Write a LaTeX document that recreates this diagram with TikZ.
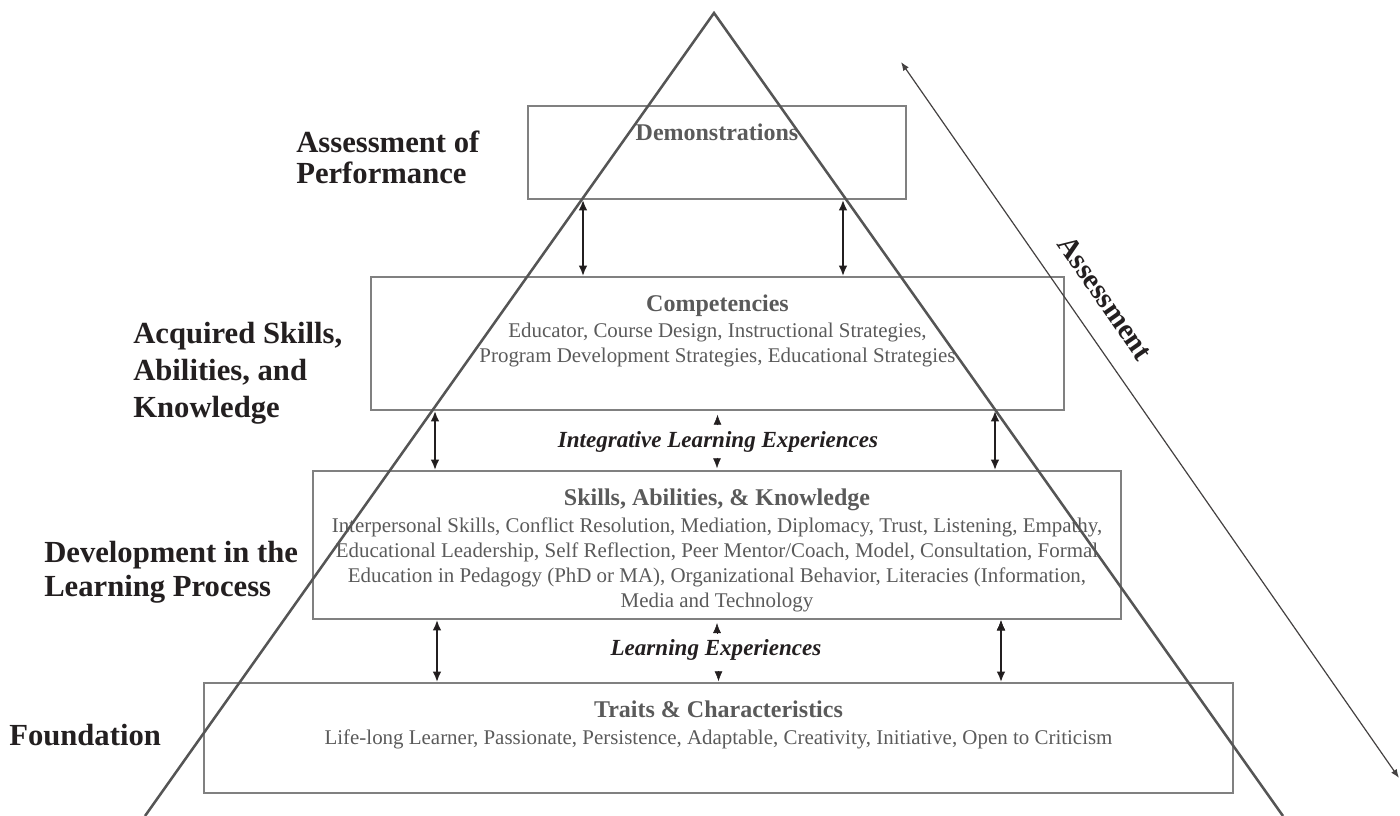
\documentclass[tikz,border=0pt]{standalone}
\usepackage{fontspec}
\setmainfont{Liberation Serif}
\usetikzlibrary{arrows.meta,positioning}
\definecolor{boxgray}{HTML}{808080}
\definecolor{textgray}{HTML}{5A5A5A}
\definecolor{inkblack}{HTML}{231F20}
\definecolor{pyrgray}{HTML}{555555}

\begin{document}
\begin{tikzpicture}[x=0.75pt, y=-0.75pt, >={Latex[length=8pt,width=6.5pt]},
level/.style = {draw=boxgray, line width=1.1pt, rectangle, inner sep=0pt},
title/.style = {text=textgray, font=\fontsize{18}{21.6}\selectfont\bfseries, inner sep=0pt, anchor=base},
body/.style = {text=textgray, font=\fontsize{15.7}{18.75}\selectfont, align=center, inner sep=0pt},
side/.style = {text=inkblack, font=\fontsize{23}{25.5}\selectfont\bfseries, align=left, inner sep=0pt, anchor=north west},
flow/.style = {text=inkblack, font=\fontsize{17.3}{20}\selectfont\bfseries\itshape, inner sep=0pt, anchor=base},
link/.style = {draw=inkblack, line width=1.8pt, <->},
midtip/.style = {draw=inkblack, line width=0.4pt, -{Latex[length=7.5pt,width=6pt]}},
assess/.style = {draw=inkblack!85, line width=0.9pt, {Latex[length=6.5pt,width=5pt]}-{Latex[length=6.5pt,width=5pt]}}]
    \useasboundingbox (0,0) rectangle (1400,816);

    % levels of the pyramid
    \node [level, minimum width=283.5pt, minimum height=69.75pt]  (demo)   at (717,152.5) {};
    \node [level, minimum width=519.75pt, minimum height=99.75pt] (comp)   at (717.5,343.5) {};
    \node [level, minimum width=606pt, minimum height=111pt]      (skills) at (717,545) {};
    \node [level, minimum width=771.75pt, minimum height=82.5pt]  (traits) at (718.5,738) {};

    \node [title] (demoT)   at ([yshift=-26.25pt]demo.north)   {Demonstrations};
    \node [title] (compT)   at ([yshift=-26.25pt]comp.north)   {Competencies};
    \node [title] (skillsT) at ([yshift=-26.25pt]skills.north) {Skills, Abilities, \& Knowledge};
    \node [title] (traitsT) at ([yshift=-26.25pt]traits.north) {Traits \& Characteristics};

    \node [body, below=8.8pt of compT.base]   (compB)   {Educator, Course Design, Instructional Strategies,\\
        Program Development Strategies, Educational Strategies};
    \node [body, below=8.8pt of skillsT.base] (skillsB) {Interpersonal Skills, Conflict Resolution, Mediation, Diplomacy, Trust, Listening, Empathy,\\
        Educational Leadership, Self Reflection, Peer Mentor/Coach, Model, Consultation, Formal\\
        Education in Pedagogy (PhD or MA), Organizational Behavior, Literacies (Information,\\
        Media and Technology};
    \node [body, below=8.8pt of traitsT.base] (traitsB) {Life-long Learner, Passionate, Persistence, Adaptable, Creativity, Initiative, Open to Criticism};

    % side labels
    \node [side, font=\fontsize{23}{23.25}\selectfont\bfseries] (assessL) at (296,131) {Assessment of\\Performance};
    \node [side, font=\fontsize{23}{27.75}\selectfont\bfseries] (acqL)    at (133,322) {Acquired Skills,\\Abilities, and\\Knowledge};
    \node [side]  (devL)   at (44,541) {Development in the\\Learning Process};
    \node [side]  (foundL) at (9,724)   {Foundation};

    % experiences between the levels
    \node [flow] (ile)  at (718,448) {Integrative Learning Experiences};
    \node [flow] (lexp) at (716,655) {Learning Experiences};

    \path[link] (demo.south -| 583,0)   edge (comp.north -| 583,0)
                (demo.south -| 843,0)   edge (comp.north -| 843,0)
                (comp.south -| 435,0)   edge (skills.north -| 435,0)
                (comp.south -| 995,0)   edge (skills.north -| 995,0)
                (skills.south -| 437,0) edge (traits.north -| 437,0)
                (skills.south -| 1001,0) edge (traits.north -| 1001,0)
                ;
    \draw[midtip] ([yshift=-11pt]comp.south)    -- ([yshift=-3pt]comp.south);
    \draw[midtip] ([yshift=9.5pt]skills.north)  -- ([yshift=1.5pt]skills.north);
    \draw[midtip] ([yshift=-10.5pt]skills.south) -- ([yshift=-2.5pt]skills.south);
    \draw[midtip] ([yshift=8.5pt]traits.north)  -- ([yshift=0.75pt]traits.north);

    % assessment axis
    \coordinate (asTop) at (901,62);
    \coordinate (asBot) at (1399,778);
    \draw[assess] (asTop) -- node[pos=0.356, sloped, above=17pt, inner sep=0pt, text=inkblack,
        font=\fontsize{22}{24}\selectfont\bfseries] (assessA) {Assessment} (asBot);

    % pyramid
    \coordinate (apex)  at (714,13);
    \coordinate (baseL) at (145,816);
    \coordinate (baseR) at (1283,816);
    \draw[pyrgray, line width=1.9pt] (baseL) -- (apex) -- (baseR);
\end{tikzpicture}
\end{document}
